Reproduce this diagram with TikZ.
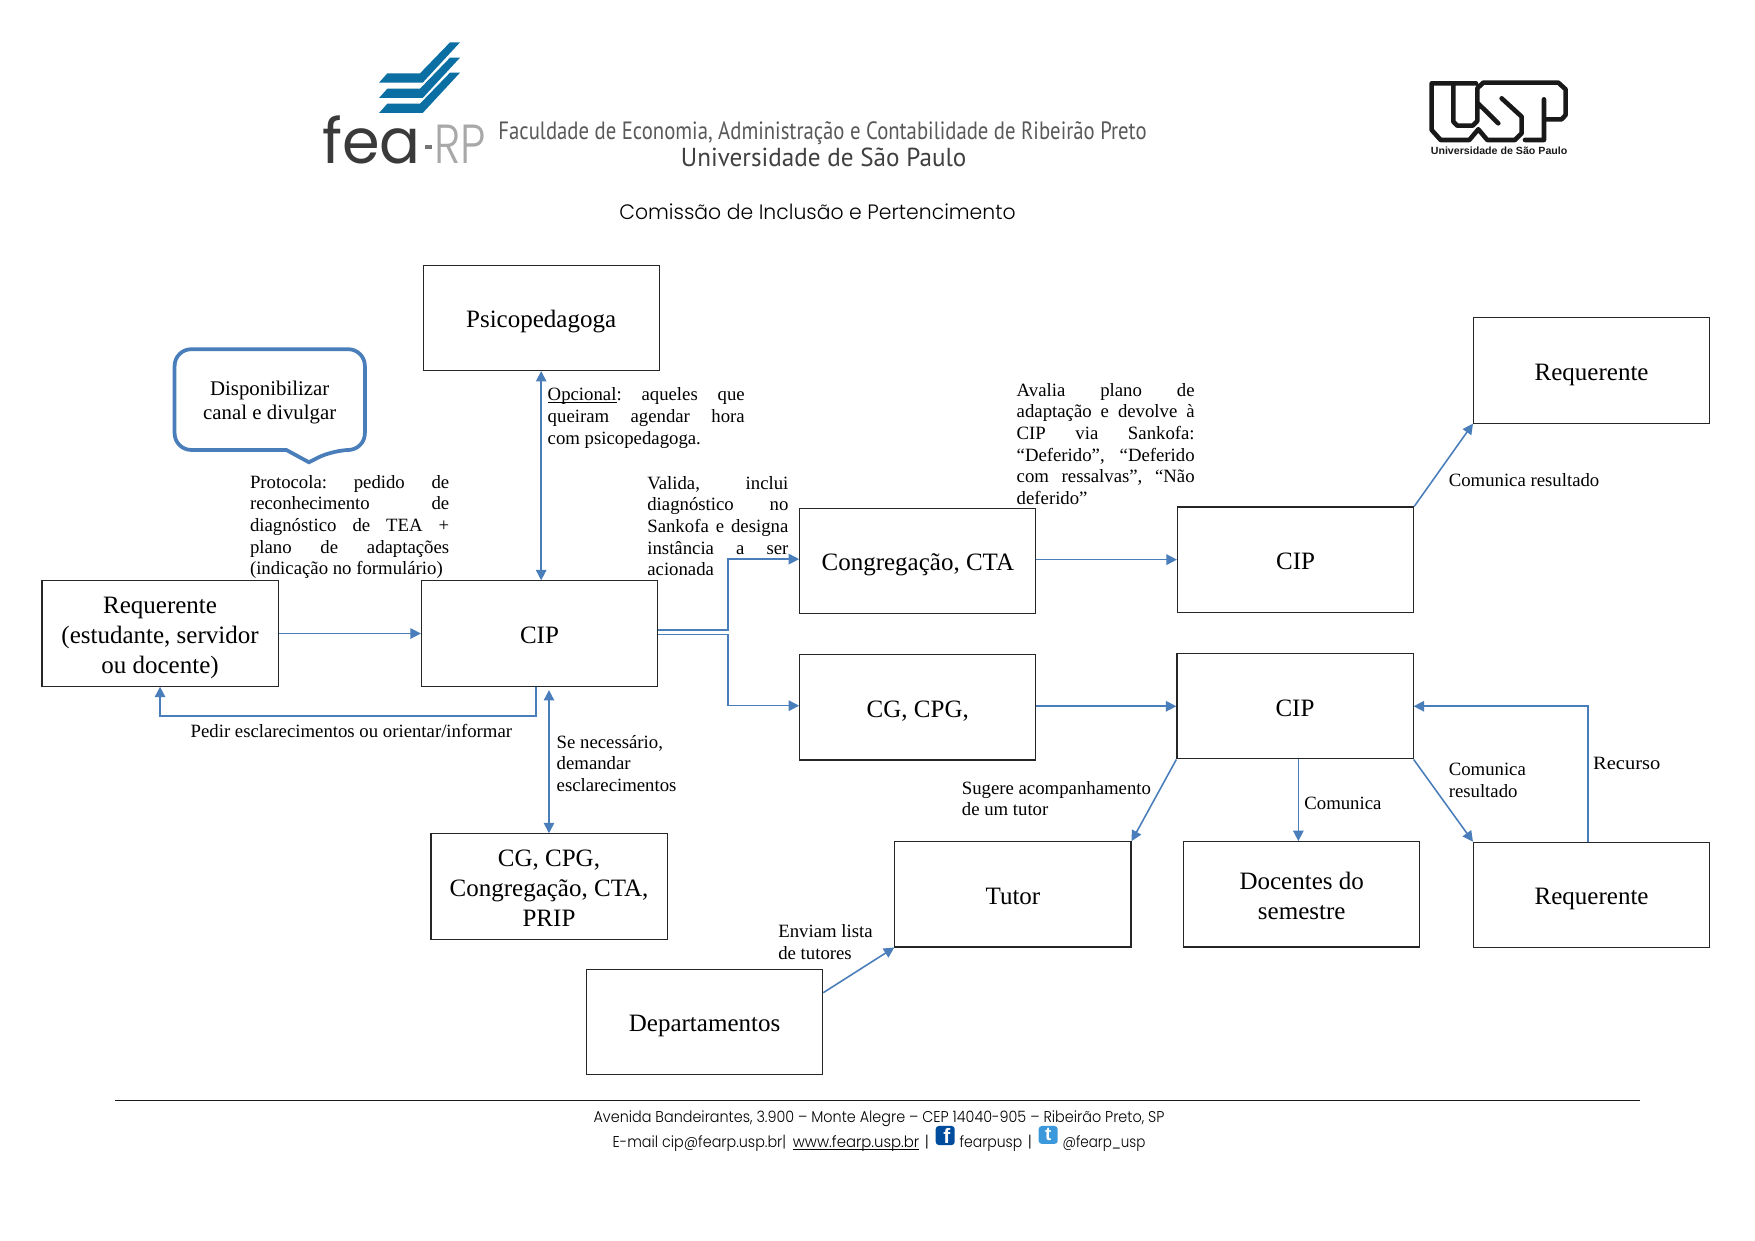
\documentclass[tikz,border=0pt]{standalone}
\usepackage{fontspec}
\usepackage{graphicx}
\usetikzlibrary{arrows.meta,calc}
\setmainfont{Liberation Serif}
\newfontfamily\gothic{Poppins}[UprightFont=* Light]
\newfontfamily\gothicreg{Poppins}
\newfontfamily\narrowfont{PT Sans}
\newfontfamily\arialfont{Liberation Sans}
\newdimen\unitu \unitu=.537pt
\newcommand\fitw[2]{\resizebox{#1\unitu}{\height}{#2}}
\newcommand\jl[1]{\leavevmode\hbox to \hsize{\frenchspacing\spaceskip=.25em plus 100pt\relax #1}\par}
\newcommand\ul[1]{\setbox0\hbox{#1}\rlap{\rule[-1pt]{\wd0}{.4pt}}\box0}
\newcommand\bt[1]{\raisebox{-1.9pt}[\height][\depth]{\begin{tabular}{@{}c@{}}#1\end{tabular}}}
\definecolor{linkblue}{HTML}{4A7EBB}
\definecolor{feablue}{HTML}{0B6FA4}
\definecolor{feadark}{HTML}{3A3A3A}
\definecolor{fealight}{HTML}{A8A8A8}
\tikzset{
  boxnode/.style={draw=black!85,line width=.55pt,minimum width=113.3pt,minimum height=50.5pt,inner sep=0pt,font=\fontsize{12}{14.3}\selectfont},
  conn/.style={draw=linkblue,line width=.75pt,-{Triangle[length=5pt,width=5pt]}},
  conntwo/.style={draw=linkblue,line width=.75pt,{Triangle[length=5pt,width=5pt]}-{Triangle[length=5pt,width=5pt]}},
  lbl/.style={inner sep=0pt,anchor=north west,font=\fontsize{9}{10.4}\selectfont},
  lblw/.style={lbl,text width=#1*.537pt},
  foot/.style={inner sep=0pt,anchor=base west,font=\gothic\fontsize{7.5}{9}\selectfont},
}
\begin{document}
\begin{tikzpicture}[x=.537pt,y=-.537pt]
\useasboundingbox[fill=white] (0,0) rectangle (1568,1108.7);

% fea logo
\begin{scope}[shift={(277,26.8)},x=.2978*.537pt,y=-.2978*.537pt]
\foreach \d in {0,46,91}{
  \fill[feablue] (420,37+\d) -- (450,37+\d) -- (338,158+\d) -- (207,158+\d) -- (232,130+\d) -- (330,130+\d) -- cycle;
}
\end{scope}
\node[inner sep=0pt,anchor=base west,text=feadark,font=\gothicreg\fontsize{30}{30}\selectfont] (fea) at (287.4,146) {\fitw{88}{fea}};
\fill[feadark!70] (379.7,129.5) rectangle (385.7,133.4);
\node[inner sep=0pt,anchor=base west,text=fealight,font=\gothic\fontsize{26.4}{28}\selectfont] (rp) at (387.8,146) {\fitw{46}{RP}};
\node[inner sep=0pt,anchor=base west,text=black!65,font=\narrowfont\fontsize{12}{13}\selectfont] (facname) at (445,125) {\fitw{579}{Faculdade de Economia, Administração e Contabilidade de Ribeirão Preto}};
\node[inner sep=0pt,anchor=base west,text=black!75,font=\narrowfont\fontsize{12.5}{14}\selectfont] (uniname) at (608,149) {\fitw{255}{Universidade de São Paulo}};
\node[inner sep=0pt,anchor=base west,font=\gothic\fontsize{10}{12}\selectfont] (title) at (553,196) {\fitw{354}{Comissão de Inclusão e Pertencimento}};

% USP logo
\begin{scope}[shift={(1250.8,53.6)},x=.2978*.537pt,y=-.2978*.537pt]
\draw[line width=2.2pt,line join=round,line cap=round,black!90]
  (95,70) -- (228,70) (95,70) -- (95,210) -- (122,240) -- (208,240) -- (235,208)
  (160,70) -- (160,185) -- (172,197) -- (218,197) -- (232,183) -- (232,128)
  (232,128) -- (295,190) (232,128) -- (232,85) -- (250,68) -- (345,68)
  (305,115) -- (365,170) -- (365,220) -- (345,240) -- (262,240) -- (235,208)
  (345,68) -- (475,68) -- (497,88) -- (497,165) -- (485,178) -- (432,178)
  (432,118) -- (432,240) -- (375,240);
\end{scope}
\node[inner sep=0pt,anchor=base west,font=\arialfont\bfseries\fontsize{5}{6}\selectfont,text=black!90] (uspname) at (1278,138) {\fitw{122}{Universidade de São Paulo}};

% boxes
\node[boxnode] (psico) at (483.5,284) {\bt{Psicopedagoga}};
\node[boxnode] (reqtop) at (1422,331) {\bt{Requerente}};
\node[boxnode] (reqleft) at (143,566) {\bt{Requerente\\(estudante, servidor\\ou docente)}};
\node[boxnode] (cip) at (482,566) {\bt{CIP}};
\node[boxnode] (cong) at (820,501) {\bt{Congregação, CTA}};
\node[boxnode] (cipa) at (1157.5,500) {\bt{CIP}};
\node[boxnode] (cgc) at (820,632) {\bt{CG, CPG,}};
\node[boxnode] (cipb) at (1157,631) {\bt{CIP}};
\node[boxnode] (tutor) at (905,799) {\bt{Tutor}};
\node[boxnode] (doc) at (1163,799) {\bt{Docentes do\\semestre}};
\node[boxnode] (reqb) at (1422,799.5) {\bt{Requerente}};
\node[boxnode] (cglist) at (490.5,792) {\bt{CG, CPG,\\Congregação, CTA,\\PRIP}};
\node[boxnode] (dept) at (629.5,913) {\bt{Departamentos}};

% callout
\draw[draw=linkblue,line width=1.8pt,line join=miter,rounded corners=8pt]
  (156,312) -- (326,312) -- (326,402) -- (297.6,402) [sharp corners] -- (276,413) -- (255.8,402) [rounded corners=8pt] -- (156,402) -- cycle;
\node[inner sep=0pt,align=center,font=\fontsize{10}{11.3}\selectfont] (bubble) at (241,359.5) {Disponibilizar\\canal e divulgar};

% connectors
\draw[conn] (reqleft.east) -- (cip.west);
\draw[conn] ([xshift=-1.6pt]cip.south) -- ++(0,26) -| (reqleft.south);
\draw[conntwo] (psico.south) -- (psico.south |- cip.north);
\draw[conntwo] (cglist.north) -- ($(cglist.north |- cip.south)+(0,3)$);
\draw[conn] ([yshift=1.6pt]cip.east) -- ++(62.5,0) |- ([yshift=.8pt]cong.west);
\draw[conn] ([yshift=-.5pt]cip.east) -- ++(62.5,0) |- ([yshift=.8pt]cgc.west);
\draw[conn] (cong.east |- cipa.west) -- (cipa.west);
\draw[conn] (cgc.east |- cipb.west) -- (cipb.west);
\draw[conn] (cipa.north east) -- (reqtop.south west);
\draw[conn] (cipb.south west) -- (tutor.north east);
\draw[conn] (cipb.south -| 1160,0) -- (doc.north -| 1160,0);
\draw[conn] (cipb.south east) -- (reqb.north west);
\draw[conn] (reqb.north -| 1419,0) |- (cipb.east);
\draw[conn] ([yshift=14pt]dept.east) -- (tutor.south west);

% labels
\node[lblw=176] (l1) at (489,346) {\jl{\ul{Opcional}: aqueles que}\jl{queiram agendar hora}\jl{com psicopedagoga.\hfil}};
\node[lblw=178] (l2) at (223,424) {\jl{Protocola: pedido de}\jl{reconhecimento de}\jl{diagnóstico de TEA +}\jl{plano de adaptações}\jl{(indicação no formulário)\hfil}};
\node[lblw=126] (l3) at (578,425) {\jl{Valida, inclui}\jl{diagnóstico no}\jl{Sankofa e designa}\jl{instância a ser}\jl{acionada\hfil}};
\node[lblw=159] (l4) at (908,342) {\jl{Avalia plano de}\jl{adaptação e devolve à}\jl{CIP via Sankofa:}\jl{“Deferido”, “Deferido}\jl{com ressalvas”, “Não}\jl{deferido”\hfil}};
\node[lbl] (l5) at (1294,422.5) {Comunica resultado};
\node[lbl] (l6) at (170,646.5) {Pedir esclarecimentos ou orientar/informar};
\node[lbl,align=left] (l7) at (497,656.5) {Se necessário,\\demandar\\esclarecimentos};
\node[lbl,align=left] (l8) at (859,697.5) {Sugere acompanhamento\\de um tutor};
\node[lbl] (l9) at (1165,711.5) {Comunica};
\node[lbl,align=left] (l10) at (1294,681.5) {Comunica\\resultado};
\node[lbl] (l11) at (1423,676.5) {\fitw{60}{Recurso}};
\node[lbl,align=left] (l12) at (695,825.5) {Enviam lista\\de tutores};

% footer
\coordinate (fl) at (103,983.5);
\coordinate (fr) at (1465,983.5);
\draw[line width=.55pt,black!90] (fl) -- (fr);
\node[foot] (f1) at (530,1003) {\fitw{510}{Avenida Bandeirantes, 3.900 – Monte Alegre – CEP 14040-905 – Ribeirão Preto, SP}};
\node[foot] (f2) at (547,1025) {\fitw{155}{E-mail cip@fearp.usp.br|}};
\node[foot] (f3) at (708,1025) {\ul{\fitw{113}{www.fearp.usp.br}}};
\node[foot] (f4) at (826,1025) {|};
\node[foot] (f5) at (857,1025) {\fitw{56}{fearpusp}};
\node[foot] (f6) at (918,1025) {|};
\node[foot] (f7) at (949,1025) {\fitw{74}{@fearp\_usp}};
\fill[blue!45!black!70!cyan,rounded corners=1.5pt] (836,1006) rectangle (853,1023);
\node[inner sep=0pt,text=white,font=\arialfont\bfseries\fontsize{10}{10}\selectfont] (fbf) at (846,1015) {f};
\fill[cyan!70!blue!80,rounded corners=1.5pt] (928,1006) rectangle (945,1022);
\node[inner sep=0pt,text=white,font=\arialfont\bfseries\fontsize{9}{9}\selectfont] (twt) at (936.5,1014) {t};
\end{tikzpicture}
\end{document}
